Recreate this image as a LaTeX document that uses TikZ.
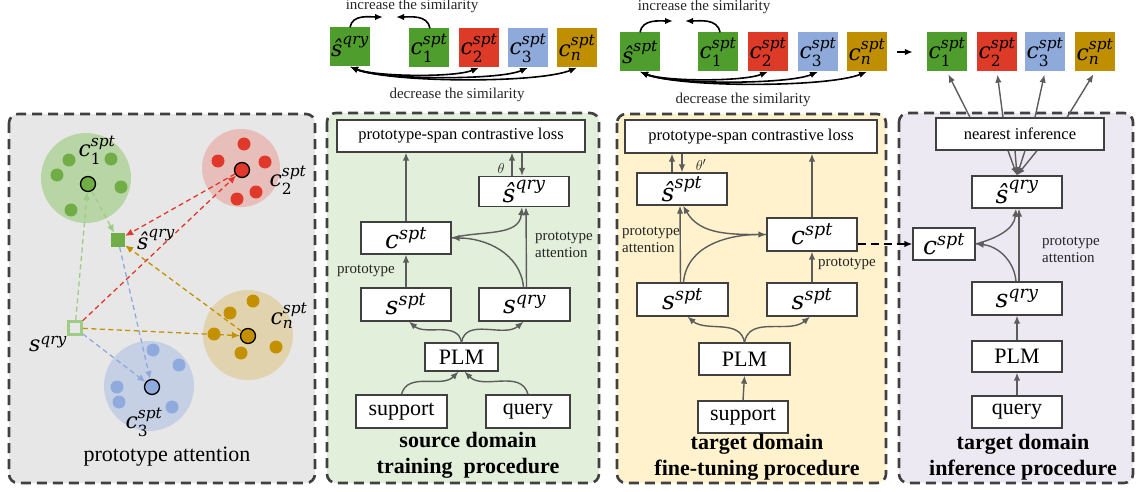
\documentclass[tikz,border=0pt]{standalone}
\usepackage{amsmath}
\usepackage{fontspec}
\setmainfont{Liberation Serif}
\newfontfamily\mfont{DejaVu Serif}
\usetikzlibrary{arrows.meta,calc}

\definecolor{frame}{HTML}{404040}
\definecolor{arrowgray}{HTML}{5C5C5C}
\definecolor{paneA}{HTML}{E7E7E7}
\definecolor{paneB}{HTML}{E2EFDA}
\definecolor{paneC}{HTML}{FFF2CC}
\definecolor{paneD}{HTML}{EDE9F3}
\definecolor{kgreen}{HTML}{4F9E2D}
\definecolor{kred}{HTML}{DD3B27}
\definecolor{kblue}{HTML}{8EAADB}
\definecolor{kgold}{HTML}{BF8F00}
\definecolor{dgreen}{HTML}{70AD47}
\definecolor{dred}{HTML}{E0392B}
\definecolor{dblue}{HTML}{8FAADC}
\definecolor{dgold}{HTML}{C49000}
\definecolor{hgreen}{HTML}{B8D6A5}
\definecolor{hred}{HTML}{E8BEBB}
\definecolor{hblue}{HTML}{C6D0E4}
\definecolor{hgold}{HTML}{E0D3AE}
\definecolor{lgreen}{HTML}{9FCC85}

\newcommand{\mysize}[2]{\fontsize{#1}{#2}\selectfont}
% italic variable letters and upright indices
\newcommand{\mv}[1]{\text{\mfont\itshape #1}}
\newcommand{\mn}[1]{\text{\mfont #1}}

\tikzset{
  panel/.style={draw=frame, line width=2.6pt, dash pattern=on 10pt off 6pt, rounded corners=9pt},
  box/.style={draw=frame, fill=white, line width=1.3pt, inner sep=0pt, font=\mysize{25}{27}},
  wordbox/.style={box, font=\mysize{22}{24}},
  lossbox/.style={box, font=\mysize{16.5}{18}},
  chip/.style={minimum width=40pt, minimum height=39pt, inner sep=0pt, font=\mysize{22}{24}},
  arr/.style={draw=arrowgray, line width=1.4pt, -{Latex[length=8pt,width=6.5pt]}},
  blk/.style={draw=black, line width=1.6pt},
  tip/.style={-{Latex[length=8pt,width=6.5pt]}},
  dtip/.style={{Latex[length=8pt,width=6.5pt]}-{Latex[length=8pt,width=6.5pt]}},
  dsh/.style={line width=1.3pt, dash pattern=on 5pt off 3.5pt, -{Latex[length=8pt,width=7pt]}},
  proto/.style={circle, draw=black, line width=1.3pt, minimum size=15pt, inner sep=0pt},
  note/.style={font=\mysize{15}{17}, inner sep=0pt, text=black!85},
  title/.style={font=\bfseries\mysize{22}{26}, align=center, inner sep=0pt},
  mlabel/.style={font=\mysize{22}{24}, inner sep=0pt}
}

\begin{document}
\begin{tikzpicture}[x=1pt, y=-1pt]
\useasboundingbox (0,0) rectangle (1137,492);

% ---------- panel frames ----------
\draw[panel, fill=paneA] (9,114) rectangle (315,483);
\draw[panel, fill=paneB] (327,113) rectangle (599,483);
\draw[panel, fill=paneC] (617,114) rectangle (886,483);
\draw[panel, fill=paneD] (899,113) rectangle (1133,483);

% ---------- prototype attention sketch ----------
\fill[hgreen] (86,178) circle (45pt);
\fill[hred]   (241,168) circle (39pt);
\fill[hgold]  (248,335) circle (45pt);
\fill[hblue]  (149,386) circle (45pt);

\foreach \p in {(69,160),(111,159),(57,175),(121,187),(71,210)} \fill[dgreen] \p circle (6.5pt);
\foreach \p in {(244,144),(218,161),(265,162),(237,199),(256,192)} \fill[dred] \p circle (6.5pt);
\foreach \p in {(253,301),(230,313),(214,334),(241,353),(276,347)} \fill[dgold] \p circle (6.5pt);
\foreach \p in {(153,350),(179,365),(117,387),(119,402),(172,407)} \fill[dblue] \p circle (6.5pt);

\node[proto, fill=dgreen] (p1) at (88,184) {};
\node[proto, fill=dred]   (p2) at (242,170) {};
\node[proto, fill=dgold]  (pn) at (248,336) {};
\node[proto, fill=dblue]  (p3) at (152,387) {};
\node[draw=lgreen, line width=2.6pt, minimum size=13pt, inner sep=0pt] (sq) at (75,328) {};
\node[fill=dgreen, minimum size=14pt, inner sep=0pt] (sh) at (118,240) {};

\draw[dsh, draw=lgreen] (sq) -- (p1);
\draw[dsh, draw=lgreen] (p1) -- (sh);
\draw[dsh, draw=dred]   (sq) -- (p2);
\draw[dsh, draw=dred]   (p2) -- (sh);
\draw[dsh, draw=dgold]  (sq) -- (pn);
\draw[dsh, draw=dgold]  (pn) -- (sh);
\draw[dsh, draw=dblue]  (sq) -- (p3);
\draw[dsh, draw=dblue]  (sh) -- (p3);

\node[mlabel] (l1) at (97,150) {$\mv{c}^{\mv{spt}}_{\mn{1}}$};
\node[mlabel] (l2) at (288,180) {$\mv{c}^{\mv{spt}}_{\mn{2}}$};
\node[mlabel] (ln) at (289,316) {$\mv{c}^{\mv{spt}}_{\mv{n}}$};
\node[mlabel] (l3) at (144,422) {$\mv{c}^{\mv{spt}}_{\mn{3}}$};
\node[mlabel] (lsh) at (156,240) {$\mv{ŝ}^{\mv{qry}}$};
\node[mlabel] (lsq) at (48,344) {$\mv{s}^{\mv{qry}}$};
\node[font=\mysize{22}{24}] (capA) at (167,457) {prototype attention};

% ---------- source domain training ----------
\node[lossbox, minimum width=248pt, minimum height=32pt] (lossB) at (461,136) {prototype-span contrastive loss};
\node[box, minimum width=90pt, minimum height=30pt] (shqB) at (524,191.5) {$\mv{ŝ}^{\mv{qry}}$};
\node[box, minimum width=90pt, minimum height=32pt] (cB) at (406,238) {$\mv{c}^{\mv{spt}}$};
\node[box, minimum width=90pt, minimum height=33pt] (ssB) at (406,304.5) {$\mv{s}^{\mv{spt}}$};
\node[box, minimum width=91pt, minimum height=33pt] (sqB) at (524.5,304.5) {$\mv{s}^{\mv{qry}}$};
\node[wordbox, minimum width=73pt, minimum height=28pt] (plmB) at (461.5,357) {PLM};
\node[wordbox, minimum width=91pt, minimum height=33pt] (supB) at (401.5,411.5) {support};
\node[wordbox, minimum width=84pt, minimum height=33pt] (qryB) at (528,411.5) {query};
\node[title] (tB) at (468,455) {source domain\\training~~procedure};

\draw[arr] (cB.north) -- (cB.north |- lossB.south);
\draw[arr] ([xshift=-12pt]shqB.north) -- ([xshift=-12pt]shqB.north |- lossB.south);
\draw[arr] ([xshift=-2pt]shqB.north |- lossB.south) -- ([xshift=-2pt]shqB.north);
\node[note, font=\mysize{15}{17}] (thB) at (501,168) {$\theta$};
\draw[arr] (ssB.north) -- (cB.south);
\draw[arr] ([xshift=2pt]sqB.north) -- ([xshift=2pt]shqB.south);
\draw[arr] ([xshift=-1pt]sqB.north) to[out=95,in=0] (cB.east);
\draw[arr] (cB.east) to[out=15,in=-95] ([xshift=-2pt]shqB.south);
\draw[arr] (plmB.north) to[out=100,in=-40] ([xshift=3pt]ssB.south);
\draw[arr] (plmB.north) to[out=80,in=-140] ([xshift=-1pt]sqB.south);
\draw[arr] (supB.north) to[out=75,in=-135] ([xshift=-3pt]plmB.south);
\draw[arr] (qryB.north) to[out=105,in=-45] ([xshift=3pt]plmB.south);
\node[note, anchor=west] (ptB) at (337,271) {prototype};
\node[note, anchor=west, align=left] (paB) at (535,245) {prototype\\attention};

% ---------- target domain fine-tuning ----------
\node[lossbox, minimum width=252pt, minimum height=33pt] (lossC) at (751,136.5) {prototype-span contrastive loss};
\node[box, minimum width=90pt, minimum height=32pt] (shsC) at (682,189) {$\mv{ŝ}^{\mv{spt}}$};
\node[box, minimum width=90pt, minimum height=33pt] (cC) at (812,234.5) {$\mv{c}^{\mv{spt}}$};
\node[box, minimum width=91pt, minimum height=33pt] (ssC) at (682.5,299.5) {$\mv{s}^{\mv{spt}}$};
\node[box, minimum width=90pt, minimum height=33pt] (ssD) at (812,299.5) {$\mv{s}^{\mv{spt}}$};
\node[wordbox, minimum width=91pt, minimum height=32pt] (plmC) at (744.5,359) {PLM};
\node[wordbox, minimum width=90pt, minimum height=32pt] (supC) at (743,417) {support};
\node[title] (tC) at (757,457) {target domain\\fine-tuning procedure};

\draw[arr] (cC.north) -- (cC.north |- lossC.south);
\draw[arr] ([xshift=-10pt]shsC.north) -- ([xshift=-10pt]shsC.north |- lossC.south);
\draw[arr] (shsC.north |- lossC.south) -- (shsC.north);
\node[note] (thC) at (701,165) {$\theta'$};
\draw[arr] (ssD.north) -- (cC.south);
\draw[arr] ([xshift=-2pt]ssC.north) -- ([xshift=-2pt]shsC.south);
\draw[arr] ([xshift=1pt]ssC.north) to[out=85,in=180] (cC.west);
\draw[arr] (cC.west) to[out=180,in=-60] ([xshift=1pt]shsC.south);
\draw[arr] (plmC.north) to[out=100,in=-40] ([xshift=5pt]ssC.south);
\draw[arr] (plmC.north) to[out=80,in=-140] ([xshift=-2pt]ssD.south);
\draw[arr] (supC.north) -- (plmC.south);
\node[note, anchor=west, align=left] (paC) at (622,240) {prototype\\attention};
\node[note, anchor=west] (ptC) at (818,264) {prototype};

% ---------- target domain inference ----------
\node[lossbox, minimum width=168pt, minimum height=32pt] (nearD) at (1020,134) {nearest inference};
\node[box, minimum width=90pt, minimum height=32pt] (shqD) at (1017,192) {$\mv{ŝ}^{\mv{qry}}$};
\node[box, minimum width=62pt, minimum height=32pt] (cD) at (944,244) {$\mv{c}^{\mv{spt}}$};
\node[box, minimum width=90pt, minimum height=33pt] (sqD) at (1017,298.5) {$\mv{s}^{\mv{qry}}$};
\node[wordbox, minimum width=90pt, minimum height=31pt] (plmD) at (1017,356.5) {PLM};
\node[wordbox, minimum width=90pt, minimum height=32pt] (qryD) at (1017,412) {query};
\node[title] (tD) at (1023,457) {target domain\\inference procedure};

\draw[arr] (qryD.north) -- (plmD.south);
\draw[arr] (plmD.north) -- (sqD.south);
\draw[arr] ([xshift=2pt]sqD.north) -- ([xshift=2pt]shqD.south);
\draw[arr] ([xshift=-1pt]sqD.north) to[out=95,in=-5] (cD.east);
\draw[arr] (cD.east) to[out=15,in=-95] ([xshift=-1pt]shqD.south);
\foreach \dx in {-12,-5,5,17}
  \draw[arr] ([xshift=\dx pt]nearD.south) -- (shqD.north);
\node[note, anchor=west, align=left] (paD) at (1042,250) {prototype\\attention};

\draw[blk, dash pattern=on 8pt off 5pt, line width=2pt, tip] (cD.west -| cC.east) -- (cD.west);

% ---------- similarity strips ----------
\node[chip, fill=kgreen] (t1s)  at (350,47) {$\mv{ŝ}^{\mv{qry}}$};
\node[chip, fill=kgreen] (t1c1) at (429,48) {$\mv{c}^{\mv{spt}}_{\mn{1}}$};
\node[chip, fill=kred]   (t1c2) at (479,48) {$\mv{c}^{\mv{spt}}_{\mn{2}}$};
\node[chip, fill=kblue]  (t1c3) at (528,48) {$\mv{c}^{\mv{spt}}_{\mn{3}}$};
\node[chip, fill=kgold]  (t1cn) at (577,48) {$\mv{c}^{\mv{spt}}_{\mv{n}}$};

\node[chip, fill=kgreen] (t2s)  at (640,52) {$\mv{ŝ}^{\mv{spt}}$};
\node[chip, fill=kgreen] (t2c1) at (718,52) {$\mv{c}^{\mv{spt}}_{\mn{1}}$};
\node[chip, fill=kred]   (t2c2) at (768,52) {$\mv{c}^{\mv{spt}}_{\mn{2}}$};
\node[chip, fill=kblue]  (t2c3) at (818,52) {$\mv{c}^{\mv{spt}}_{\mn{3}}$};
\node[chip, fill=kgold]  (t2cn) at (867,52) {$\mv{c}^{\mv{spt}}_{\mv{n}}$};

\node[chip, fill=kgreen] (t3c1) at (947,52) {$\mv{c}^{\mv{spt}}_{\mn{1}}$};
\node[chip, fill=kred]   (t3c2) at (997,52) {$\mv{c}^{\mv{spt}}_{\mn{2}}$};
\node[chip, fill=kblue]  (t3c3) at (1045,52) {$\mv{c}^{\mv{spt}}_{\mn{3}}$};
\node[chip, fill=kgold]  (t3cn) at (1095,52) {$\mv{c}^{\mv{spt}}_{\mv{n}}$};

\node[note, anchor=base] (inc1) at (412,10) {increase the similarity};
\node[note, anchor=base] (dec1) at (457,99) {decrease the similarity};
\node[note, anchor=base] (inc2) at (704,11) {increase the similarity};
\node[note, anchor=base] (dec2) at (743,104) {decrease the similarity};

\coordinate (i1a) at (383,17);
\coordinate (i1b) at (396,17);
\draw[blk, tip] (t1s.north) to[out=80,in=180] (i1a);
\draw[blk, tip] ([xshift=1pt]t1c1.north) to[out=100,in=0] (i1b);
\draw[blk, dtip] (t1s.south) .. controls +(25,10) and +(-25,10) .. (t1c2.south);
\draw[blk, dtip] (t1s.south) .. controls +(30,13) and +(-30,13) .. (t1c3.south);
\draw[blk, dtip] (t1s.south) .. controls +(40,16) and +(-40,16) .. (t1cn.south);

\coordinate (i2a) at (673,21);
\coordinate (i2b) at (685,21);
\draw[blk, tip] (t2s.north) to[out=80,in=180] (i2a);
\draw[blk, tip] ([xshift=2pt]t2c1.north) to[out=100,in=0] (i2b);
\draw[blk, dtip] (t2s.south) .. controls +(25,10) and +(-25,10) .. (t2c2.south);
\draw[blk, dtip] (t2s.south) .. controls +(30,13) and +(-30,13) .. (t2c3.south);
\draw[blk, dtip] (t2s.south) .. controls +(40,16) and +(-40,16) .. (t2cn.south);

\draw[blk, tip] ([xshift=10pt]t2cn.east) -- ([xshift=-14pt]t3c1.west);

\foreach \dx/\t in {-50/t3c1,-17/t3c2,15/t3c3,47/t3cn}
  \draw[arr, shorten >=3pt] ([xshift=\dx pt]nearD.north) -- (\t.south);

\end{tikzpicture}
\end{document}
